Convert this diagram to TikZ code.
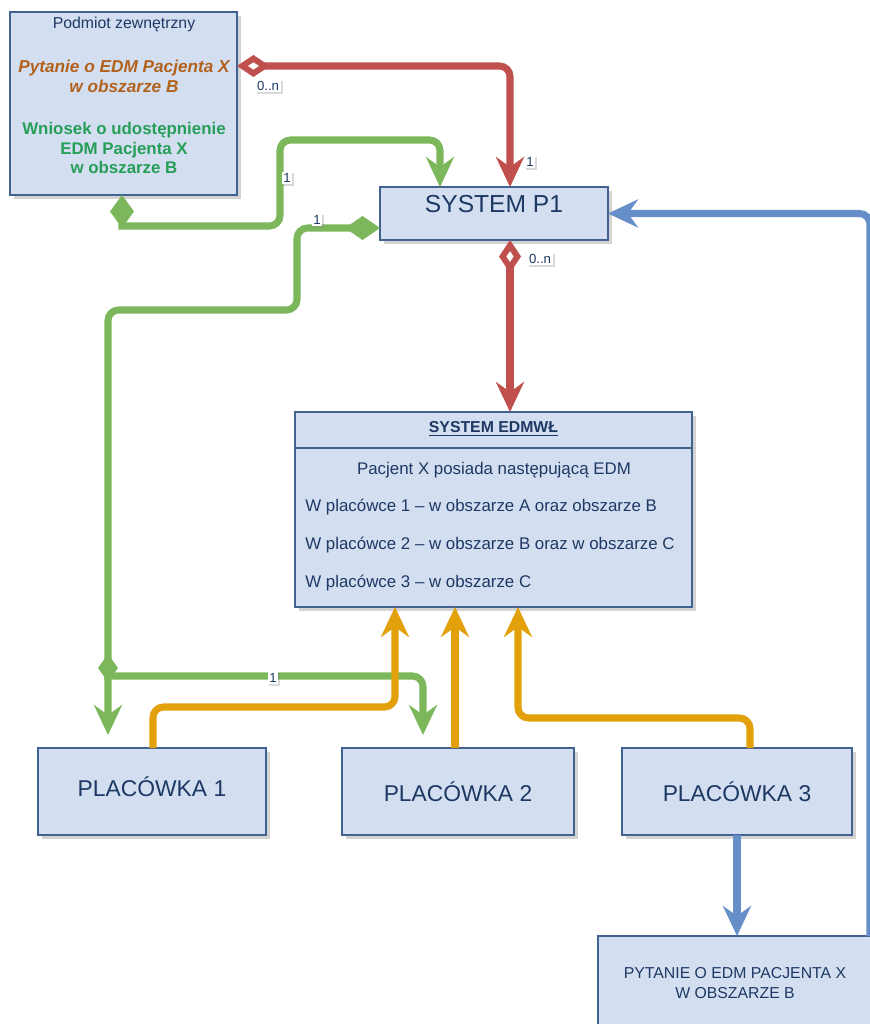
\documentclass[tikz,border=0pt]{standalone}
\usepackage{fontspec}
\setmainfont{Liberation Sans}
\usetikzlibrary{arrows.meta,shadows}

\definecolor{boxfill}{RGB}{211,223,241}
\definecolor{boxdraw}{RGB}{66,98,145}
\definecolor{txtblue}{RGB}{30,56,100}
\definecolor{txtorange}{RGB}{178,98,28}
\definecolor{txtgreen}{RGB}{38,158,88}
\definecolor{linered}{RGB}{192,80,77}
\definecolor{linegreen}{RGB}{124,183,92}
\definecolor{linegold}{RGB}{226,161,10}
\definecolor{lineblue}{RGB}{102,142,200}

\tikzset{
  box/.style={draw=boxdraw, line width=0.9pt, fill=boxfill, inner sep=0pt, outer sep=0pt,
    text=txtblue, align=center,
    drop shadow={shadow xshift=2.5pt, shadow yshift=-2.5pt, opacity=0.35}},
  txt/.style={inner sep=0pt, text=txtblue, font=\fontsize{9.6}{11.3}\selectfont},
  conn/.style={line width=4pt},
  mult/.style={fill=white, inner sep=1pt, text=txtblue, font=\fontsize{7.5}{8}\selectfont,
    drop shadow={shadow xshift=1pt, shadow yshift=-1pt, opacity=0.3}},
  grot/.tip={Stealth[length=0.6cm, width=0.56cm, inset=0.2cm]},
  romb/.tip={Diamond[length=0.7cm, width=0.48cm]},
  rombo/.tip={Diamond[open, length=0.66cm, width=0.44cm, fill=white, line width=3.4pt]}
}

\begin{document}
\begin{tikzpicture}[x=0.02cm, y=-0.02cm]
\useasboundingbox (0,0) rectangle (869,1024);

%bloki
\node[box, minimum width=4.54cm, minimum height=3.66cm] (podmiot) at (123.5,103.5) {};
\node[txt, font=\fontsize{9}{11}\selectfont] (podmiottyt) at (124,24) {Podmiot zewnętrzny};
\node[txt, text=txtorange, align=center, font=\bfseries\itshape\fontsize{9.8}{11.3}\selectfont] (pytanie) at (124,76) {Pytanie o EDM Pacjenta X\\w obszarze B};
\node[txt, text=txtgreen, align=center, font=\bfseries\fontsize{9.6}{11.3}\selectfont] (wniosek) at (124,148) {Wniosek o udostępnienie\\EDM Pacjenta X\\w obszarze B};

\node[box, minimum width=4.56cm, minimum height=1.06cm, font=\fontsize{14}{16}\selectfont, text depth=11pt] (p1) at (494,213.5) {SYSTEM P1};

\node[box, minimum width=7.94cm, minimum height=3.9cm] (edm) at (493.5,509.5) {};
\draw[boxdraw, line width=0.9pt] (edm.west |- 0,448) -- (edm.east |- 0,448);
\node[txt, font=\bfseries\fontsize{9}{11}\selectfont] (edmtyt) at (493.5,429) {\underline{SYSTEM EDMWŁ}};
\node[txt] (edm0) at (494,470) {Pacjent X posiada następującą EDM};
\node[txt, anchor=west] (edm1) at (305,507) {W placówce 1 – w obszarze A oraz obszarze B};
\node[txt, anchor=west] (edm2) at (305,545) {W placówce 2 – w obszarze B oraz w obszarze C};
\node[txt, anchor=west] (edm3) at (305,583) {W placówce 3 – w obszarze C};

\node[box, minimum width=4.56cm, minimum height=1.74cm, font=\fontsize{13}{15}\selectfont, text depth=6pt] (pl1) at (152,791.5) {PLACÓWKA 1};
\node[box, minimum width=4.64cm, minimum height=1.74cm, font=\fontsize{13}{15}\selectfont] (pl2) at (458,791.5) {PLACÓWKA 2};
\node[box, minimum width=4.6cm, minimum height=1.74cm, font=\fontsize{13}{15}\selectfont] (pl3) at (737,791.5) {PLACÓWKA 3};
\node[box, minimum width=5.48cm, minimum height=1.88cm, font=\fontsize{9}{11.3}\selectfont] (pyt) at (735,983) {PYTANIE O EDM PACJENTA X\\W OBSZARZE B};

%zielone
\draw[conn, linegreen, {romb[length=0.66cm]}-{grot}] (122,0 |- podmiot.south) -- (122,226)
  [rounded corners=6pt] -- (280,226) -- (280,140) -| (440,0 |- p1.north);
\draw[conn, rounded corners=6pt, linegreen, {romb}-{grot}, shorten >=0.26cm] (p1.west |- 0,228)
  -- (297,228) -- (297,310) -- (108,310) -- (108,0 |- pl1.north);
\draw[conn, linegreen, {romb[length=0.56cm, width=0.4cm]}-{grot}, shorten >=0.26cm] (108,654) -- (108,676)
  [rounded corners=6pt] -| (423,0 |- pl2.north);

%czerwone
\draw[conn, rounded corners=6pt, linered, {rombo}-{grot}] (podmiot.east |- 0,66) -| (510,0 |- p1.north);
\draw[conn, linered, {rombo}-{grot}] (510,0 |- p1.south) -- (510,0 |- edm.north);

%zolte
\draw[conn, rounded corners=6pt, linegold, -{grot}] (153,0 |- pl1.north) |- (395,707) -- (395,0 |- edm.south);
\draw[conn, linegold, -{grot}] (455,0 |- pl2.north) -- (455,0 |- edm.south);
\draw[conn, rounded corners=6pt, linegold, -{grot}] (750,0 |- pl3.north) |- (518,718) -- (518,0 |- edm.south);

%niebieskie
\draw[conn, lineblue, -{grot}] (737,0 |- pl3.south) -- (737,0 |- pyt.north);
\draw[conn, rounded corners=6pt, lineblue, -{grot}] (870,0 |- pyt.north) |- (p1.east);

%krotnosci
\node[mult] (m1) at (268,86) {0..n};
\node[mult] (m2) at (530,162) {1};
\node[mult] (m3) at (540,259) {0..n};
\node[mult] (m4) at (287,178) {1};
\node[mult] (m5) at (317,220) {1};
\node[mult] (m6) at (273,678) {1};

\end{tikzpicture}
\end{document}
